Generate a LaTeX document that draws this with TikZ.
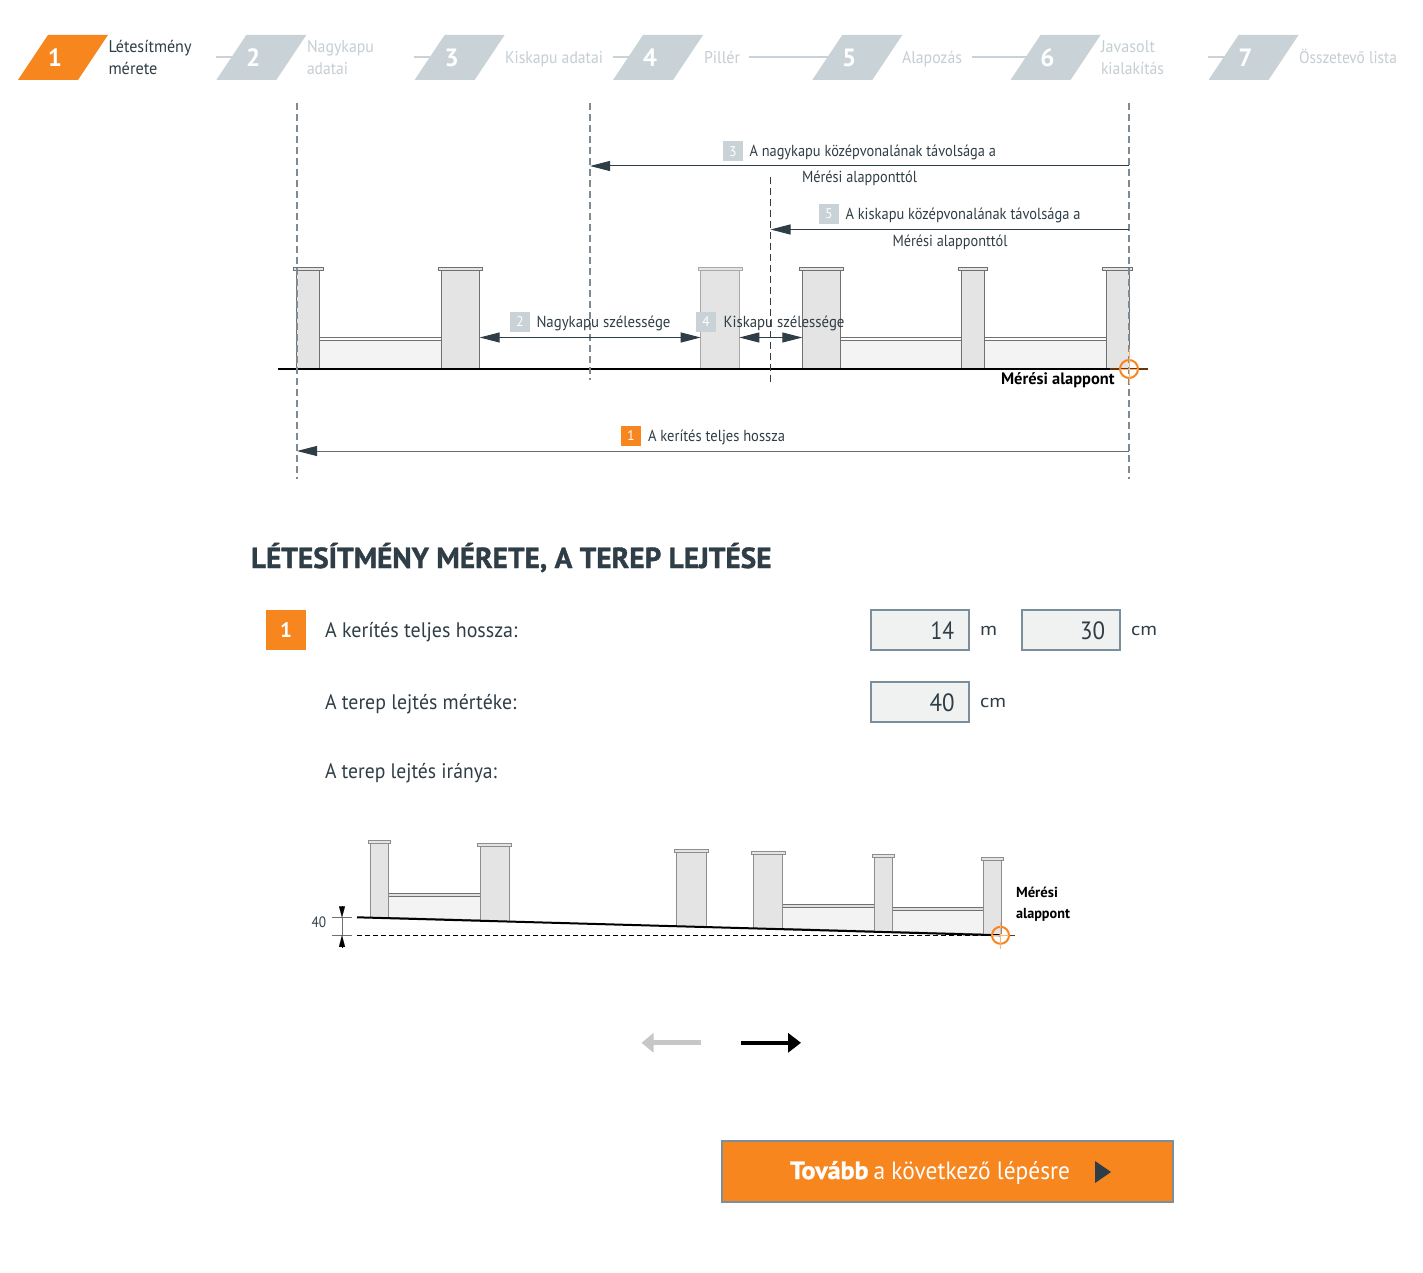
\documentclass[tikz,border=0pt]{standalone}
\usepackage{fontspec}
\usepackage{graphicx}
\setmainfont{PT Sans}
\newfontfamily\heavyf[UprightFont=* Bold,UprightFeatures={FakeBold=1.2}]{PT Sans}
\usetikzlibrary{arrows.meta}
\definecolor{orng}{HTML}{F7861F}
\definecolor{stepgr}{HTML}{C9D2D7}
\definecolor{steptx}{HTML}{C4CED3}
\definecolor{ink}{HTML}{2F3E46}
\definecolor{boxln}{HTML}{7A8E9B}
\definecolor{boxfl}{HTML}{F0F2F2}
\definecolor{pilfl}{HTML}{E4E4E4}
\definecolor{panfl}{HTML}{F3F3F3}
\definecolor{pilln}{HTML}{707070}
\definecolor{dashgr}{HTML}{7F8A93}
\newsavebox{\fitbx}
\newcommand\fitw[2]{\sbox{\fitbx}{#2}\pgfmathsetmacro\fitr{#1/\the\wd\fitbx}\scalebox{\fitr}[1]{\usebox{\fitbx}}}
\newcommand\tl[7]{\node[lbl,text=#6] (#1) at (#2,#3) {\fontsize{#5}{#5}\selectfont\fitw{#4}{#7}};}
\newcommand\stepbox[3]{%
  \fill[#3] (#1,80) -- (#1+60,80) -- (#1+90,35) -- (#1+30,35) -- cycle;
  \node[stepnum] (num#2) at (#1+37,58) {#2};}
\newcommand\capped[7]{%
  \fill[pilfl] (#1,#4) rectangle (#2,#3);
  \draw[pil,draw=#7] (#1,#4) -- (#1,#3) -- (#2,#3) -- (#2,#4);
  \draw[capst,draw=#7] (#5,#3) rectangle (#6,#3-3.2);}
\newcommand\wall[7]{%
  \fill[panfl] (#1,#4) rectangle (#2,#6);
  \fill[#7] (#1,#3) rectangle (#2,#4);
  \draw[pil] (#1,#3) -- (#2,#3) (#1,#4) -- (#2,#4);
  \draw[pil,draw=pilln!70] (#1,#5) -- (#2,#6);}
\tikzset{
  lbl/.style={anchor=base west,inner sep=0pt,outer sep=0pt},
  stepnum/.style={text=white,font=\fontsize{25}{25}\selectfont\bfseries,inner sep=0pt},
  badge/.style={minimum width=20pt,minimum height=20pt,inner sep=0pt,text=white,font=\fontsize{14}{14}\selectfont},
  pil/.style={line width=1pt,draw=pilln},
  capst/.style={line width=1pt,fill=pilfl},
  vdash/.style={line width=1.4pt,draw=dashgr,dash pattern=on 7pt off 4pt},
  dimline/.style={line width=1pt,draw=ink},
  tip/.style={-{Triangle[length=20pt,width=10pt,color=ink]}},
  tips/.style={{Triangle[length=20pt,width=10pt,color=ink]}-{Triangle[length=20pt,width=10pt,color=ink]}},
  inbox/.style={draw=boxln,fill=boxfl,line width=2pt,inner sep=0pt},
  target/.style={draw=orng,line width=2pt},
  cross/.style={draw=orng!60,line width=1pt},
}
\begin{document}
\begin{tikzpicture}[x=1pt,y=-1pt]
\useasboundingbox (0,0) rectangle (1423,1273);
\fill[white] (0,0) rectangle (1423,1273);
%% step bar
\foreach \a/\b in {216/232,414/430,613/629,749/829,972/1027,1208/1224}
  \draw[stepgr,line width=1.6pt] (\a,57) -- (\b,57);
\stepbox{18}{1}{orng}
\stepbox{216.3}{2}{stepgr}
\stepbox{414.6}{3}{stepgr}
\stepbox{613}{4}{stepgr}
\stepbox{812.3}{5}{stepgr}
\stepbox{1010.5}{6}{stepgr}
\stepbox{1208.5}{7}{stepgr}
\tl{s1a}{108.5}{53}{83}{17}{ink}{Létesítmény}
\tl{s1b}{108.5}{75}{49}{17}{ink}{mérete}
\tl{s2a}{307}{53}{67}{17}{steptx}{Nagykapu}
\tl{s2b}{307}{75}{41}{17}{steptx}{adatai}
\tl{s3}{505}{64}{98}{17}{steptx}{Kiskapu adatai}
\tl{s4}{704}{64}{36}{17}{steptx}{Pillér}
\tl{s5}{902}{64}{60}{17}{steptx}{Alapozás}
\tl{s6a}{1101}{53}{54}{17}{steptx}{Javasolt}
\tl{s6b}{1101}{75}{63}{17}{steptx}{kialakítás}
\tl{s7}{1299}{64}{98}{17}{steptx}{Összetevő lista}
%% upper fence
\wall{319.7}{441.3}{337.3}{340.7}{369}{369}{white}
\wall{840.7}{961.3}{337.3}{340.7}{369}{369}{white}
\wall{984.7}{1106.3}{337.3}{340.7}{369}{369}{white}
\capped{296.7}{319.7}{270.7}{369}{293.3}{323}{pilln}
\capped{441.3}{479.7}{270.7}{369}{438.3}{482.7}{pilln}
\capped{700.7}{739.3}{270.7}{369}{698}{742.7}{pilln!60}
\capped{802.3}{840.7}{270.7}{369}{799}{843.7}{pilln}
\capped{961.3}{984.7}{270.7}{369}{958.3}{987.7}{pilln}
\capped{1106.3}{1129}{270.7}{369}{1102.7}{1132.7}{pilln}
%% ground
\coordinate (g1) at (278,369);
\coordinate (g2) at (1110,369);
\coordinate (g3) at (1148,369);
\draw[black,line width=2pt] (g1) -- (g2);
\draw[black!45!orng!75!black,line width=2pt] (g2) -- (g3);
%% dashed verticals
\coordinate (v1a) at (297,103); \coordinate (v1b) at (297,479);
\coordinate (v2a) at (590,103); \coordinate (v2b) at (590,380);
\coordinate (v3a) at (770.5,177); \coordinate (v3b) at (770.5,382);
\coordinate (v4a) at (1129,103); \coordinate (v4b) at (1129,479);
\draw[vdash] (v1a) -- (v1b);
\draw[vdash] (v2a) -- (v2b);
\draw[vdash,line width=1pt,draw=ink] (v3a) -- (v3b);
\draw[vdash] (v4a) -- (v4b);
%% dimension arrows
\coordinate (d3a) at (1129,166); \coordinate (d3b) at (590,166);
\coordinate (d5a) at (1129,229.5); \coordinate (d5b) at (770.5,229.5);
\coordinate (d2a) at (479.7,337.5); \coordinate (d2b) at (700.7,337.5);
\coordinate (d4a) at (739.3,337.5); \coordinate (d4b) at (802.3,337.5);
\coordinate (d1a) at (1129,451); \coordinate (d1b) at (297,451);
\draw[dimline,tip] (d3a) -- (d3b);
\draw[dimline,tip] (d5a) -- (d5b);
\draw[dimline,tips] (d2a) -- (d2b);
\draw[dimline,tips] (d4a) -- (d4b);
\draw[dimline,tip,draw=ink!75] (d1a) -- (d1b);
%% target upper
\node[circle,target,minimum size=18pt,inner sep=0pt] (t1) at (1129,369) {};
\coordinate (t1n) at (1129,349); \coordinate (t1s) at (1129,384);
\coordinate (t1w) at (1120,369); \coordinate (t1e) at (1138,369);
\draw[cross] (t1n) -- (t1s);
\draw[cross] (t1w) -- (t1e);
%% labels upper
\node[badge,fill=stepgr] (b3) at (733,151.5) {3};
\tl{l3a}{749.5}{157}{246.5}{16}{ink}{A nagykapu középvonalának távolsága a}
\tl{l3b}{802}{183}{115}{16}{ink}{Mérési alapponttól}
\node[badge,fill=stepgr] (b5) at (829,214) {5};
\tl{l5a}{845.5}{220}{235}{16}{ink}{A kiskapu középvonalának távolsága a}
\tl{l5b}{892.5}{247}{115}{16}{ink}{Mérési alapponttól}
\node[badge,fill=stepgr] (b2) at (520,322) {2};
\tl{l2}{536.5}{327.5}{134}{16}{ink}{Nagykapu szélessége}
\node[badge,fill=stepgr] (b4) at (706,322) {4};
\tl{l4}{723.5}{327.5}{121}{16}{ink}{Kiskapu szélessége}
\node[badge,fill=orng] (b1) at (631,436) {1};
\tl{l1}{648}{441.5}{137}{16}{ink}{A kerítés teljes hossza}
\tl{lm}{1001}{384.5}{113.5}{16.5}{black}{\bfseries Mérési alappont}
%% form
\tl{title}{251}{568}{520.5}{29}{ink}{\heavyf LÉTESÍTMÉNY MÉRETE, A TEREP LEJTÉSE}
\node[minimum width=40pt,minimum height=40pt,inner sep=0pt,fill=orng,text=white,font=\fontsize{21}{21}\selectfont\bfseries] (bbig) at (286,630) {1};
\tl{f1}{325}{637}{192.5}{21}{ink}{A kerítés teljes hossza:}
\tl{f2}{325}{709}{191.5}{21}{ink}{A terep lejtés mértéke:}
\tl{f3}{325}{778}{172}{21}{ink}{A terep lejtés iránya:}
\node[inbox,minimum width=98pt,minimum height=40pt] (in1) at (920,630) {};
\node[inbox,minimum width=98pt,minimum height=40pt] (in2) at (1071,630) {};
\node[inbox,minimum width=98pt,minimum height=40pt] (in3) at (920,702) {};
\tl{n1}{930.5}{639.5}{23.5}{25}{ink}{14}
\tl{n2}{1080}{639.5}{25}{25}{ink}{30}
\tl{n3}{929.5}{711.5}{25}{25}{ink}{40}
\tl{u1}{980}{635}{17}{18}{ink}{m}
\tl{u2}{1131}{635}{26}{18}{ink}{cm}
\tl{u3}{980}{707}{26}{18}{ink}{cm}
%% lower fence
\wall{388.7}{480.3}{893.3}{896.7}{917.5}{920}{black!12}
\wall{782.7}{874.3}{904.3}{907.7}{928.5}{931}{black!12}
\wall{892}{983.3}{907.3}{910.3}{931.5}{934}{black!12}
\capped{370.3}{388.7}{843.3}{917.7}{368.3}{390.7}{pilln!80}
\capped{480.3}{509.7}{846.9}{920.5}{477.3}{511.7}{pilln!80}
\capped{676.3}{706}{852.3}{925.7}{674}{708}{pilln!80}
\capped{753.3}{782.7}{854.6}{928.3}{751.3}{785}{pilln!80}
\capped{874.3}{892}{857.5}{931}{872}{894.7}{pilln!80}
\capped{983.3}{1001.7}{860.9}{934.3}{981.3}{1003.7}{pilln!80}
\coordinate (h1) at (357,917.3);
\coordinate (h2) at (1001,935.3);
\coordinate (h3) at (1015,935.3);
\coordinate (h0) at (357,935.3);
\draw[black,line width=0.8pt,dash pattern=on 5pt off 3pt] (h0) -- (h2);
\draw[black,line width=2pt] (h1) -- (h2);
\draw[black!45!orng!75!black,line width=1.6pt] (h2) -- (h3);
\node[circle,target,minimum size=17pt,inner sep=0pt] (t2) at (1000.5,935.3) {};
\coordinate (t2n) at (1000.5,921.7); \coordinate (t2s) at (1000.5,949.3);
\coordinate (t2w) at (992,935.3); \coordinate (t2e) at (1009,935.3);
\draw[cross] (t2n) -- (t2s);
\draw[cross] (t2w) -- (t2e);
%% slope dimension
\coordinate (m1a) at (332.3,917.3); \coordinate (m1b) at (352,917.3);
\coordinate (m2a) at (332.3,935.3); \coordinate (m2b) at (352,935.3);
\coordinate (ma) at (342,917.3); \coordinate (mb) at (342,935.3);
\coordinate (mt) at (342,906); \coordinate (mu) at (342,947);
\draw[pilln,line width=.8pt] (m1a) -- (m1b);
\draw[pilln,line width=.8pt] (m2a) -- (m2b);
\draw[pilln,line width=.8pt] (ma) -- (mb);
\draw[-{Triangle[length=11pt,width=6pt,color=black]},draw=black,line width=.1pt] (mt) -- (ma);
\draw[-{Triangle[length=11.5pt,width=6pt,color=black]},draw=black,line width=.1pt] (mu) -- (mb);
\tl{v40}{311.5}{927}{14.5}{15}{ink}{40}
\tl{mr1}{1016}{897}{42}{14.5}{black}{\bfseries Mérési}
\tl{mr2}{1016}{918}{54}{14.5}{black}{\bfseries alappont}
%% direction arrows
\coordinate (ga) at (701,1042.8); \coordinate (gb) at (641.5,1042.8);
\coordinate (ka) at (741,1042.8); \coordinate (kb) at (801,1042.8);
\draw[line width=5pt,draw=black!22,-{Triangle[length=12pt,width=19pt,color=black!22]}] (ga) -- (gb);
\draw[line width=4pt,draw=black,-{Triangle[length=13pt,width=19pt,color=black]}] (ka) -- (kb);
%% button
\node[draw=boxln,fill=orng,line width=2pt,minimum width=451pt,minimum height=61pt,inner sep=0pt] (btn) at (947.5,1171.5) {};
\tl{bt1}{790}{1179}{78.5}{25}{white}{\heavyf Tovább}
\tl{bt2}{873.5}{1179}{196.5}{25}{white}{a következő lépésre}
\fill[ink] (1095,1161) -- (1111,1172) -- (1095,1183) -- cycle;
\end{tikzpicture}
\end{document}
